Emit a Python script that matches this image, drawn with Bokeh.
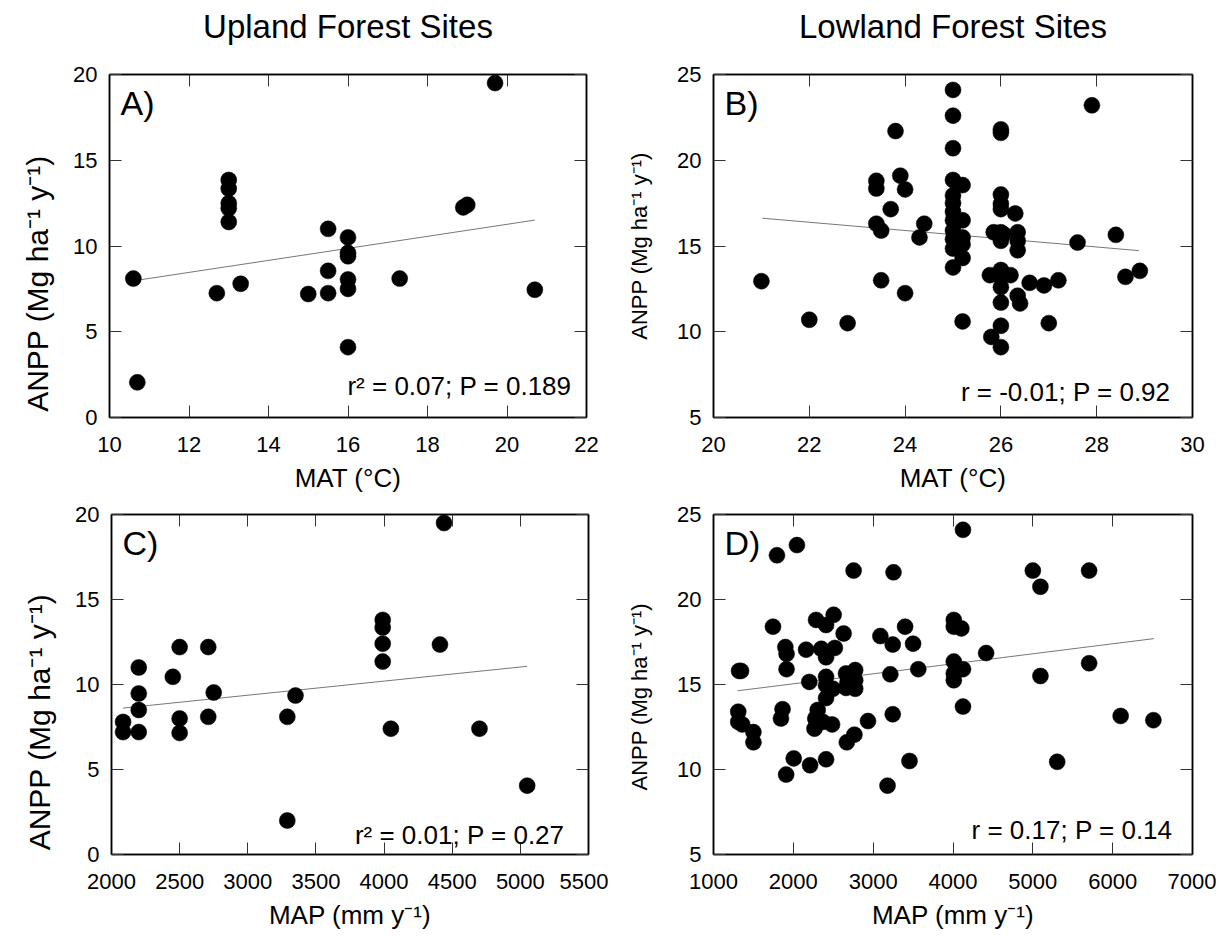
import math
from bokeh.plotting import figure
from bokeh.layouts import column, row
from bokeh.models import Range1d, FixedTicker, LinearAxis, Label
from bokeh.embed import file_html
from bokeh.resources import INLINE

# ---------------- data ----------------
A_mat = [10.6, 10.7, 12.7, 13.3, 13.0, 13.0, 13.0, 13.0, 13.0, 15.0, 15.5, 15.5,
         15.5, 16.0, 16.0, 16.0, 16.0, 16.0, 16.0, 17.3, 18.9, 19.0, 19.7, 20.7]
A_anpp = [8.1, 2.05, 7.25, 7.8, 13.85, 13.35, 12.5, 12.2, 11.4, 7.2, 11.0, 8.55,
          7.25, 10.5, 9.6, 9.4, 8.05, 7.5, 4.1, 8.1, 12.25, 12.4, 19.5, 7.45]
A_fit_x = [10.6, 20.7]
A_fit_y = [7.97, 11.51]

B_mat = [21.0, 22.0, 22.8, 23.4, 23.4, 23.4, 23.5, 23.5, 23.7, 23.8, 23.9, 24.0, 24.0, 24.3, 24.4,
         25.0, 25.0, 25.0, 25.0, 25.0, 25.0, 25.0, 25.0, 25.0, 25.0, 25.0, 25.0,
         25.2, 25.2, 25.2, 25.2, 25.2, 25.2,
         26.0, 26.0, 26.0, 26.0, 26.0, 26.0, 26.0, 26.0, 26.0, 26.0, 26.0, 26.0, 26.0,
         25.8, 25.85, 26.05, 25.77, 26.2, 26.3, 26.35, 26.35, 26.35, 26.35, 26.4, 26.6,
         26.9, 27.0, 27.2, 27.6, 27.9, 28.4, 28.6, 28.9]
B_anpp = [12.95, 10.7, 10.5, 18.8, 18.35, 16.3, 15.9, 13.0, 17.15, 21.7, 19.1, 18.3, 12.25, 15.5, 16.3,
          24.1, 22.6, 20.7, 18.85, 17.95, 17.5, 17.0, 16.5, 15.9, 15.4, 14.85, 13.75,
          18.55, 16.5, 15.5, 15.1, 14.3, 10.6,
          21.8, 21.6, 18.0, 17.45, 17.15, 15.8, 15.3, 13.6, 13.2, 12.6, 11.7, 10.35, 9.1,
          9.7, 15.8, 15.7, 13.3, 13.3, 16.9, 15.8, 15.3, 14.75, 12.1, 11.65, 12.85,
          12.7, 10.5, 13.0, 15.2, 23.2, 15.65, 13.2, 13.55]
B_fit_x = [21.02, 28.88]
B_fit_y = [16.62, 14.73]

C_map = [2085, 2085, 2200, 2200, 2200, 2200, 2450, 2500, 2500, 2500, 2710, 2750, 2710,
         3290, 3290, 3350, 3990, 3990, 3990, 3990, 4050, 4410, 4440, 4700, 5050]
C_anpp = [7.8, 7.2, 11.0, 9.47, 8.5, 7.2, 10.45, 12.2, 8.0, 7.15, 12.2, 9.53, 8.1,
          8.1, 2.0, 9.35, 13.8, 13.35, 12.4, 11.35, 7.4, 12.35, 19.5, 7.4, 4.05]
C_fit_x = [2084, 5050]
C_fit_y = [8.61, 11.07]

D_map = [1320, 1345, 1310, 1310, 1360, 1500, 1500, 1745, 1795, 2045, 1900, 1915, 1915,
         1865, 1845, 1910, 2005, 2160, 2200, 2210, 2285, 2410, 2505, 2350, 2410, 2520,
         2410, 2410, 2495, 2410, 2305, 2275, 2265, 2370, 2485, 2410, 2630, 2660, 2680,
         2775, 2775, 2775, 2660, 2755, 2765, 2670, 2935, 3090, 3245, 3215, 3245, 3255,
         3180, 3400, 3500, 3565, 3455, 4010, 4010, 4105, 4010, 4010, 4010, 4125, 4125,
         4125, 4415, 5000, 5095, 5095, 5305, 5705, 5705, 6100, 6510]
D_anpp = [15.8, 15.8, 13.4, 12.8, 12.65, 12.2, 11.6, 18.4, 22.6, 23.2, 17.2, 16.8, 15.9,
          13.55, 13.0, 9.7, 10.65, 17.05, 15.15, 10.25, 18.8, 18.5, 19.1, 17.1, 16.6, 17.15,
          15.45, 14.95, 14.75, 14.2, 13.5, 13.0, 12.4, 12.8, 12.65, 10.6, 18.0, 15.65, 15.15,
          15.85, 15.25, 14.75, 14.8, 21.7, 12.05, 11.6, 12.85, 17.85, 17.35, 15.6, 13.25, 21.6,
          9.05, 18.4, 17.4, 15.9, 10.5, 18.8, 18.4, 18.3, 16.35, 15.65, 15.25, 15.9, 24.1,
          13.7, 16.85, 21.7, 20.75, 15.5, 10.45, 21.7, 16.25, 13.15, 12.9]
D_fit_x = [1301, 6519]
D_fit_y = [14.63, 17.7]

A_xticks = [10, 12, 14, 16, 18, 20, 22]
B_xticks = [20, 22, 24, 26, 28, 30]
C_xticks = [2000, 2500, 3000, 3500, 4000, 4500, 5000, 5500]
D_xticks = [1000, 2000, 3000, 4000, 5000, 6000, 7000]
up_yticks = [0, 5, 10, 15, 20]
low_yticks = [5, 10, 15, 20, 25]

titles = ["Upland Forest Sites", "Lowland Forest Sites"]
panel_letters = ["A)", "B)", "C)", "D)"]
stats = ["r\u00b2 = 0.07; P = 0.189", "r = -0.01; P = 0.92",
         "r\u00b2 = 0.01; P = 0.27", "r = 0.17; P = 0.14"]
y_label = "ANPP (Mg ha\u207b\u00b9 y\u207b\u00b9)"
x_labels = ["MAT (\u00b0C)", "MAT (\u00b0C)", "MAP (mm y\u207b\u00b9)", "MAP (mm y\u207b\u00b9)"]

FONT = "Liberation Sans"
NBSP = "\u00a0"


def make_panel(xs, ys, fx, fy, xr, yr, xticks, yticks, letter, stat, xlabel,
               fw, fh, bl, br, bt, bb, stat_dx, stat_dy, title=None,
               ylab_size="26px", ylab_standoff=20, ylab_pad=0):
    p = figure(x_range=Range1d(*xr), y_range=Range1d(*yr),
               frame_width=fw, frame_height=fh,
               min_border_left=bl, min_border_right=br,
               min_border_top=bt, min_border_bottom=bb,
               output_backend="svg", toolbar_location=None,
               background_fill_color="white", border_fill_color="white")
    p.grid.visible = False
    p.outline_line_color = "black"
    p.outline_line_width = 1.5

    for ax, tks in ((p.xaxis[0], xticks), (p.yaxis[0], yticks)):
        ax.ticker = FixedTicker(ticks=tks)
        ax.major_tick_in = 12
        ax.major_tick_out = 0
        ax.minor_tick_in = 0
        ax.minor_tick_out = 0
        ax.major_tick_line_color = "#333333"
        ax.axis_line_color = "black"
        ax.axis_line_width = 1.5
        ax.major_label_text_font = FONT
        ax.major_label_text_font_size = "22px"
        ax.major_label_text_color = "black"
        ax.axis_label_text_font = FONT
        ax.axis_label_text_font_style = "normal"
        ax.axis_label_text_color = "black"
    p.xaxis.major_label_standoff = 19
    p.xaxis.axis_label = xlabel
    p.xaxis.axis_label_standoff = 8
    p.xaxis.axis_label_text_font_size = "26px"
    p.yaxis.major_label_standoff = 12
    # trailing no-break spaces shift the centred label towards the bottom
    p.yaxis.axis_label = y_label + NBSP * ylab_pad
    p.yaxis.axis_label_standoff = ylab_standoff
    p.yaxis.axis_label_text_font_size = ylab_size

    for loc, tks in (("above", xticks), ("right", yticks)):
        ax = LinearAxis(ticker=FixedTicker(ticks=tks),
                        major_tick_in=12, major_tick_out=0,
                        minor_tick_in=0, minor_tick_out=0,
                        major_tick_line_color="#333333",
                        axis_line_color="black", axis_line_width=1.5,
                        major_label_text_font_size="0px",
                        major_label_text_color=None,
                        major_label_standoff=0)
        if loc == "above" and title is not None:
            # column title drawn as the label of the mirrored top axis
            ax.axis_label = title
            ax.axis_label_text_font = FONT
            ax.axis_label_text_font_size = "33px"
            ax.axis_label_text_font_style = "normal"
            ax.axis_label_text_color = "black"
            ax.axis_label_standoff = 30
        p.add_layout(ax, loc)

    p.line(fx, fy, line_color="#777777", line_width=1)
    p.scatter(xs, ys, size=16, fill_color="black", line_color="black", line_width=0.5)

    p.add_layout(Label(x=xr[0], y=yr[1], x_offset=11, y_offset=-9, text=letter,
                       text_font=FONT, text_font_size="34px", text_color="black",
                       text_align="left", text_baseline="top"))
    p.add_layout(Label(x=xr[1], y=yr[0], x_offset=-stat_dx, y_offset=stat_dy, text=stat,
                       text_font=FONT, text_font_size="26px", text_color="black",
                       text_align="right", text_baseline="alphabetic"))
    return p


pA = make_panel(A_mat, A_anpp, A_fit_x, A_fit_y, (10, 22), (0, 20), A_xticks, up_yticks,
                panel_letters[0], stats[0], x_labels[0],
                fw=477, fh=343, bl=109, br=22, bt=74, bb=83, stat_dx=15, stat_dy=32,
                title=titles[0], ylab_size="30px", ylab_standoff=16, ylab_pad=9)
pB = make_panel(B_mat, B_anpp, B_fit_x, B_fit_y, (20, 30), (5, 25), B_xticks, low_yticks,
                panel_letters[1], stats[1], x_labels[1],
                fw=479, fh=343, bl=105, br=24, bt=74, bb=83, stat_dx=22, stat_dy=26,
                title=titles[1], ylab_size="22px", ylab_standoff=22)
pC = make_panel(C_map, C_anpp, C_fit_x, C_fit_y, (2000, 5500), (0, 20), C_xticks, up_yticks,
                panel_letters[2], stats[2], x_labels[2],
                fw=477, fh=340, bl=111, br=20, bt=14, bb=74, stat_dx=24, stat_dy=20,
                ylab_size="30px", ylab_standoff=16, ylab_pad=9)
pD = make_panel(D_map, D_anpp, D_fit_x, D_fit_y, (1000, 7000), (5, 25), D_xticks, low_yticks,
                panel_letters[3], stats[3], x_labels[3],
                fw=479, fh=340, bl=105, br=24, bt=13, bb=75, stat_dx=20, stat_dy=25,
                ylab_size="22px", ylab_standoff=22, ylab_pad=4)

layout = column(row(pA, pB), row(pC, pD))
open("out.html", "w").write(file_html(layout, INLINE))
